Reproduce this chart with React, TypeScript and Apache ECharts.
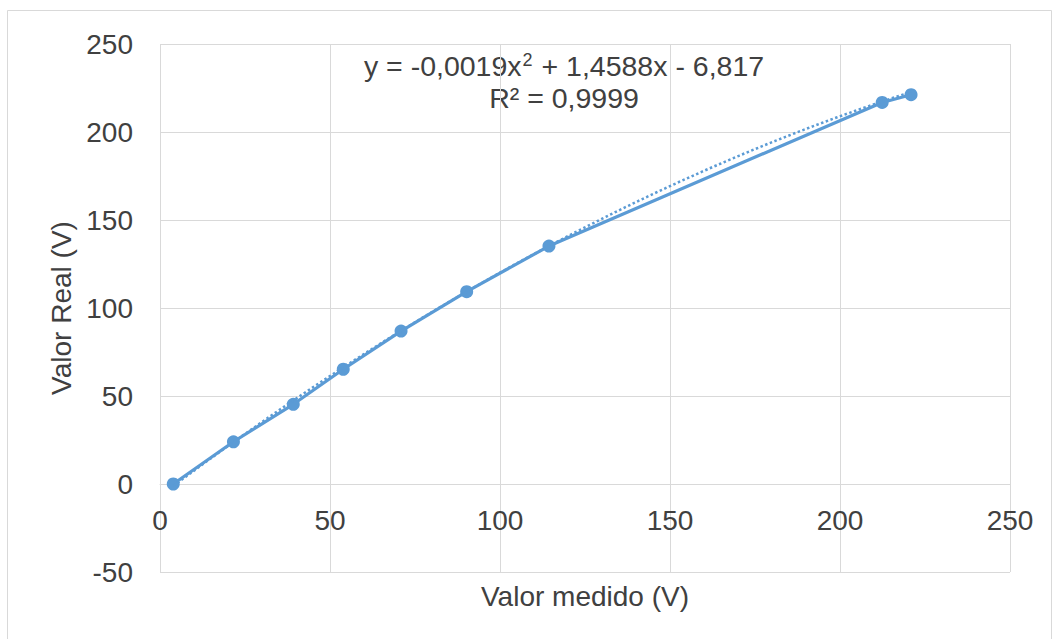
import React, { useEffect, useRef } from "react";
import * as echarts from "echarts";

const measured: number[] = [3.9, 21.6, 39.2, 53.9, 70.9, 90.2, 114.4, 212.4, 220.9];
const real: number[] = [0, 24.0, 45.3, 65.2, 86.9, 109.3, 135.2, 216.8, 221.2];
// Trendline coefficients shown on the chart: y = a x^2 + b x + c
const trendCoefficients: number[] = [-0.0019, 1.4588, -6.817];
const xTicks: number[] = [0, 50, 100, 150, 200, 250];
const yTicks: number[] = [-50, 0, 50, 100, 150, 200, 250];

const FONT = "'Liberation Sans', Arial, sans-serif";
const TEXT = "#404040";
const BLUE = "#5b9bd5";
const GRID = "#d9d9d9";

export default function App() {
  const ref = useRef<HTMLDivElement>(null);
  useEffect(() => {
    if (!ref.current) return;
    const chart = echarts.init(ref.current, null, { renderer: "svg" });
    const [a, b, c] = trendCoefficients;
    const x0 = measured[0];
    const x1 = measured[measured.length - 1];
    const trend: number[][] = [];
    const steps = 60;
    for (let i = 0; i <= steps; i++) {
      const x = x0 + ((x1 - x0) * i) / steps;
      trend.push([x, a * x * x + b * x + c]);
    }
    chart.setOption({
      animation: false,
      backgroundColor: "#ffffff",
      textStyle: { fontFamily: FONT },
      grid: { left: 160, top: 44, right: 45, bottom: 67, outerBoundsMode: "none", containLabel: false },
      xAxis: {
        type: "value",
        min: xTicks[0],
        max: xTicks[xTicks.length - 1],
        interval: 50,
        offset: -88,
        name: "Valor medido (V)",
        nameLocation: "middle",
        nameGap: 98,
        nameTextStyle: { fontSize: 28, color: TEXT, fontFamily: FONT },
        axisLine: { show: true, onZero: false, lineStyle: { color: GRID, width: 1 } },
        axisTick: { show: false },
        axisLabel: { fontSize: 28, color: TEXT, margin: 22, showMinLabel: true, showMaxLabel: true, fontFamily: FONT },
        splitLine: { show: true, lineStyle: { color: GRID, width: 1 } },
      },
      yAxis: {
        type: "value",
        min: yTicks[0],
        max: yTicks[yTicks.length - 1],
        interval: 50,
        name: "Valor Real (V)",
        nameLocation: "middle",
        nameGap: 84,
        nameTextStyle: { fontSize: 28, color: TEXT, fontFamily: FONT },
        axisLine: { show: false },
        axisTick: { show: false },
        axisLabel: { fontSize: 28, color: TEXT, margin: 27, showMinLabel: true, showMaxLabel: true, fontFamily: FONT },
        splitLine: { show: true, lineStyle: { color: GRID, width: 1 } },
      },
      series: [
        {
          type: "line",
          name: "Valor Real",
          data: measured.map((x, i) => [x, real[i]]),
          symbol: "circle",
          symbolSize: 13,
          itemStyle: { color: BLUE },
          lineStyle: { color: BLUE, width: 3.2 },
          z: 2,
        },
        {
          type: "line",
          name: "Tendencia",
          data: trend,
          symbol: "none",
          lineStyle: { color: BLUE, width: 2.5, type: "dotted" },
          z: 3,
        },
      ],
      graphic: [
        {
          type: "rect",
          shape: { x: 7.5, y: 10.5, width: 1044, height: 660 },
          style: { fill: "none", stroke: GRID, lineWidth: 1 },
          silent: true,
        },
        {
          type: "text",
          x: 564,
          y: 50,
          style: {
            text: "{a|y = -0,0019x}{s|2}{a| + 1,4588x - 6,817}\n{a|R² = 0,9999}",
            align: "center",
            verticalAlign: "top",
            fill: TEXT,
            rich: {
              a: { fontSize: 28.5, fontFamily: FONT, fill: TEXT, lineHeight: 32 },
              s: { fontSize: 18, fontFamily: FONT, fill: TEXT, lineHeight: 32, padding: [0, 1, 12, 1] },
            },
          },
        },
      ],
    });
    return () => chart.dispose();
  }, []);
  return (
    <div
      ref={ref}
      style={{ position: "fixed", left: 0, top: 0, width: 1055, height: 639, background: "#fff" }}
    />
  );
}
